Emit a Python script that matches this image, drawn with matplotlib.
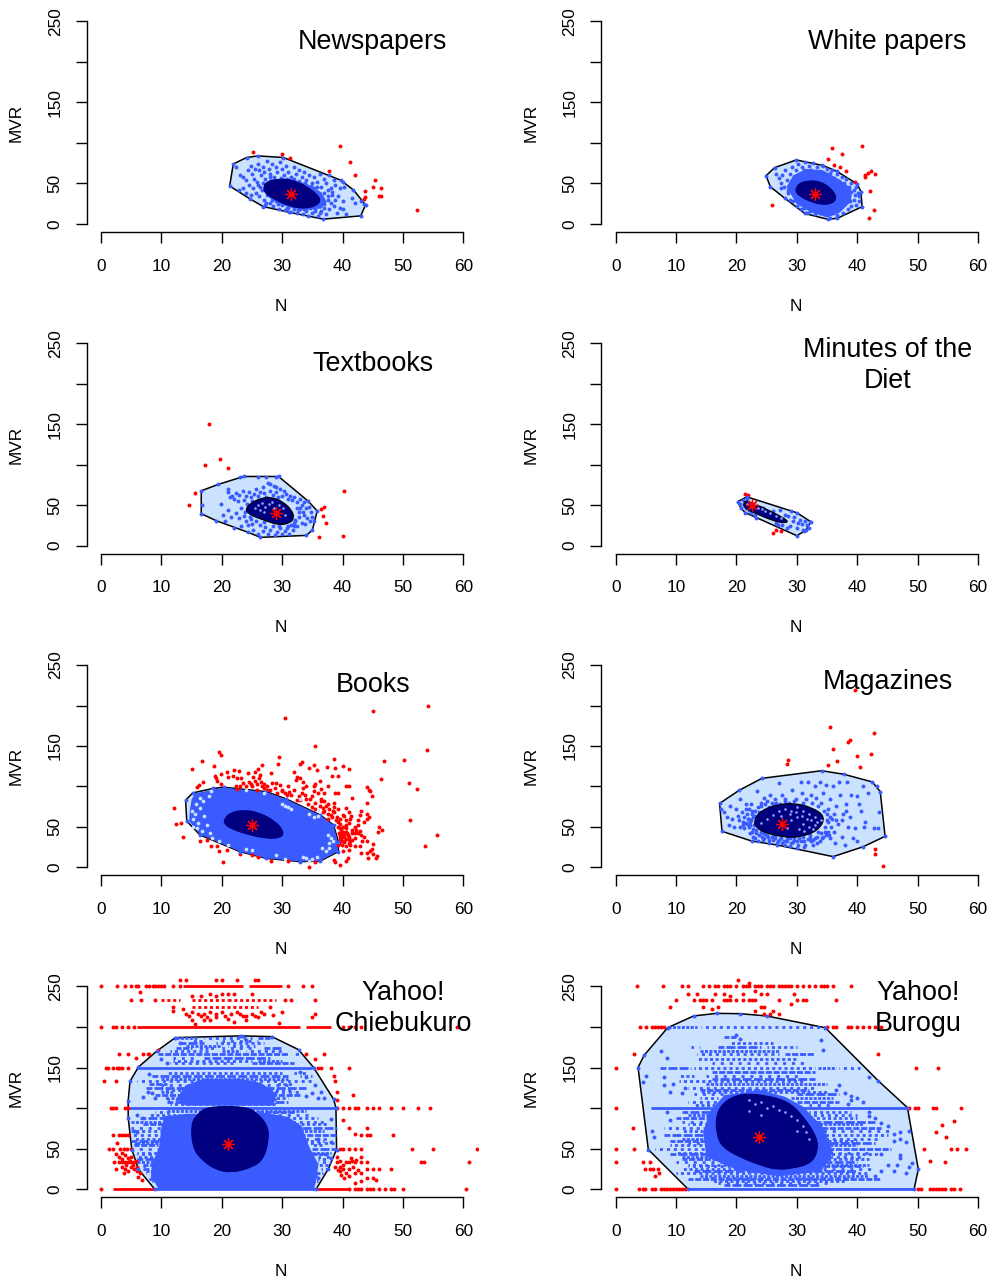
# Bagplots of N against MVR for eight Japanese text registers.
import numpy as np
import matplotlib
matplotlib.use("Agg")
from matplotlib import pyplot as plt
from matplotlib.path import Path
from matplotlib.patches import PathPatch

plt.rcParams["font.family"] = ["Liberation Sans", "DejaVu Sans"]

LIGHT = "#CAE1FF"
BLUE = "#3A5CFF"
NAVY = "#000080"
RED = "#FF0000"

xticks = [0, 10, 20, 30, 40, 50, 60]
yticks = [0, 50, 100, 150, 200, 250]
yticklabels = ["0", "50", "", "150", "", "250"]

# dash patterns cycled over the rows of points so they do not line up in columns
DOT_STYLES = [(0, (1.1, 0.5)), (0.9, (1.1, 1.4)), (0.4, (2.2, 0.6)), (1.5, (1.1, 0.9)), (0.2, (1.1, 2.1)), (1.1, (3.2, 0.8)), (0.6, (1.1, 1.1))]

# ---- Newspapers
news_hull = [(21.3,46.9),(21.9,74),(24.1,82),(26,84),(30.2,82),(39.7,54),(41.8,42),(43.8,23.5),(43,10),(36.8,6),(31.2,14.4),(26.9,21.4),(24.7,30.8)]
news_core = [(26.9,44),(27.3,52),(29.1,55),(30.7,55.5),(32.3,52.5),(34,46.5),(35.7,37),(36.4,29),(35.6,22.5),(34.1,19.5),(32.4,20),(30.7,23.5),(28.6,31),(27.2,37.8)]
news_center = (31.5, 37)
news_dense = [(27.5,34),(26.8,45),(28,55),(31,56),(34,50),(36.5,39),(37.4,27),(36.4,19),(33.5,17),(30,23)]
news_red = [(25.2,88.4),(29.9,86),(31.3,81),(37.8,65),(39.6,95.8),(41.2,76),(42,60.9),(45.4,54.3),(43.7,41),(45.1,45.2),(46.4,44.4),(43.7,33.7),(43.6,31),(46,34),(46.4,34),(52.4,17)]
news_blue = [(22.3,70),(23,60),(23.5,58),(24,54),(24.3,66),(24.8,72),(25,62),(25.3,56),(25.5,68),(26,74),(26.2,66),(26.5,60),(26.8,70),(27,64),(27.2,56),(27.5,78),(27.8,68),(28,62),(28.3,74),(28.6,58),(29,70),(29.2,64),(29.6,76),(30,68),(30.3,60),(30.7,72),(31,64),(31.4,58),(32,70),(32.3,62),(32.8,66),(33.2,58),(33.6,64),(34,54),(34.5,60),(35,50),(35.3,58),(35.8,52),(36.2,62),(36.5,46),(37,56),(37.3,50),(37.8,60),(38,44),(38.5,54),(38.8,48),(39.5,44),(40,52),(40.3,46),
(22.8,42),(23.5,44),(24,38),(24.5,48),(24.8,36),(25.2,44),(25.6,38),(26,48),(26.2,34),(26.6,42),(27,30),(27.2,24),(27.5,36),(28,26),(28.5,22),(29,28),(29.5,19),(30,24),(30.5,17),(31,20),(31.5,15),(32,19),(32.5,14),(33,18),(33.5,12),(34,16),(34.3,10),(35,14),(35.5,19),(36,10),(36.2,22),(36.5,16),(37,25),(37.3,12),(37.5,30),(37.8,18),(38,26),(38.3,36),(38.5,22),(38.8,30),(39,14),(39.2,34),(39.5,20),(40,28),(40.5,12),(40,18),(41.5,32),(42,26),(43,28),(43.5,25),(37,38),(37.5,42),(36.5,33),(36.8,28),
(25.8,52),(26.4,46),(26.9,50),(27.4,26),(27.9,58),(28.3,30),(28.8,54),(29.3,25),(29.8,57),(30.2,27),(30.8,56),(31.3,24),(32,55),(32.8,53),(33.2,22),(33.8,50),(34.2,24),(34.8,47),(35.2,44),(35.8,46),(36,38),(36.4,27),(36.9,20),(37.6,35),(38.2,40),(33.6,19),(34.6,20),(35.4,16),(36.2,13),(32.6,17),(31.8,22),(30.8,20)]

# ---- White papers
wp_hull = [(24.9,59.6),(26.3,69.5),(29.9,79),(34.4,72),(36.6,65),(40,49.3),(40.6,40),(40.8,21.4),(36.7,7),(35.1,5.8),(31.3,13),(28,31.7),(25.6,46)]
wp_core = [(29.9,44),(30.3,50),(31.9,53.5),(33.8,52.5),(35.5,45),(36.6,33.7),(36,25.5),(34.1,23.5),(32,28.5),(30.5,34),(29.8,40)]
wp_center = (33, 37)
wp_dense = [(28.3,46),(29.4,60),(31.6,68),(34.4,66),(37,55),(39,44),(39,28),(37.1,14),(35,8),(32.2,15),(29.9,25)]
wp_red = [(35.8,93.3),(40.7,96.2),(37.4,86),(35.2,79.8),(36.1,73.2),(37.1,70.7),(38.1,65),(39.7,51.8),(41.2,58),(41.3,60.4),(41.7,63.3),(42.3,65.4),(42.9,61.3),(42.1,41),(42.8,17.3),(41.9,7),(25.9,23.8)]
wp_blue = [(26.5,62),(27,57),(27.3,50),(27.6,60),(27.9,46),(28,66),(28.3,54),(28.5,38),(28.8,62),(29,48),(29.2,70),(29.5,58),(29.7,34),(29.9,66),(30.2,74),(30.5,62),(30.8,70),(31.1,66),(31.4,76),(31.7,62),(32,72),(32.4,67),(32.7,75),(33,62),(33.4,70),(33.8,65),(34.2,73),(34.6,60),(35,68),(35.4,63),(35.8,66),(36.2,57),(36.6,62),(37,53),(37.4,58),(37.8,50),(38.2,55),(38.6,46),(39,50),(39.4,42),(39.8,46),(40.1,38),(40.3,34),(40.2,28),(39.8,24),(39.4,30),(39,22),(38.6,34),(38.4,18),(38,30),(37.6,14),(37.2,22),(36.6,11),(36,14),(35.4,8),(34.6,12),(33.8,14),(33,12),(32.2,16),(31.6,14),(31.2,20),(30.6,18),(30,22),(29.4,28),(28.8,30),(27.4,44),(38.8,28),(39.6,36),(38.9,40),(37.9,44),(37.2,47),(36.6,52),(28.6,42)]

# ---- Textbooks
tb_hull = [(16.6,67.8),(19.4,75.7),(23.6,85.5),(29.4,85.5),(34.3,55),(35.8,43),(35,19.3),(34,12.7),(26.4,10.3),(24.4,16.4),(19.1,30.8),(16.6,39.5)]
tb_core = [(23.9,45),(24.8,53),(26.6,59),(28.3,60),(30.1,54.5),(31.6,44),(32,34),(31.2,27.5),(29.4,25.5),(27.4,30.5),(25.3,36),(24.4,40)]
tb_center = (29, 40)
tb_red = [(17.9,150),(19.7,107),(17.2,99.5),(21,96),(15.6,65),(14.5,50),(36.4,45),(36.9,48),(36.8,36.6),(37.3,28.4),(36.1,10.7),(40.1,12),(40.2,67.8)]
tb_blue = [(16.8,50),(19.9,51),(21,70),(21.1,66),(21.3,60),(21.7,62),(22,58),(22.4,65),(22.6,55),(22.9,63),(23.2,47),(23.5,68),(23.7,56),(24,62),(24.2,52),(24.5,66),(24.8,60),(25,55),(25.4,64),(25.7,70),(26,62),(26.4,66),(26.8,72),(27,65),(27.3,60),(27.6,78),(28,68),(28.4,63),(28.7,74),(29,66),(29.3,60),(29.7,70),(30,62),(30.3,68),(30.7,64),(31,58),(31.3,62),(31.7,56),(32,60),(32.5,54),(32.9,58),(33.2,50),(33.6,54),(34,46),(34.4,48),(34.8,42),(35,36),(35.2,30),(34.6,30),(34.1,34),(33.6,38),(33.2,28),(32.8,35),(32.4,24),(32.1,30),(31.8,20),(31.5,26),(31.2,15),(30.8,22),(30.4,18),(30,14),(29.6,22),(29.2,17),(28.8,13),(28.4,24),(28,20),(27.6,14),(27.2,23),(26.8,18),(26.4,26),(26,15),(25.6,30),(25.2,20),(24.8,33),(24.4,26),(24,30),(23.6,37),(23.2,24),(22.8,34),(22.4,40),(22,22),(21.6,36),(21,44),(20.6,30),(20.2,38),(23.9,42),(24.6,36),(25,27),(27,29),(29.5,24),(31.9,28),(32.7,42),(33.4,42),(33,46),(32.4,47),(33.8,27),(32.2,32),(31.9,24),(31,24),(27.4,85),(26,85),(29,84.5),(28.9,72),(27.9,76),(23,85)]
tb_specks = [(25.5,47),(26,50),(26.6,53),(27.2,48),(27.8,51),(28.3,54),(26.4,44),(27,42),(28.6,46),(29.5,50),(30.1,47),(29,42),(30.4,38)]

# ---- Minutes of the Diet
md_hull = [(20.2,54.3),(21.7,60.4),(30,40.7),(32.3,29.6),(31.5,19.3),(30,12.3),(21.4,41),(20.7,46.9)]
md_core = [(21.2,55),(22.2,55),(28.6,32),(28.2,27.5),(26.1,30.5),(22.8,41),(21.2,47)]
md_center = (22.5, 49.8)
md_red = [(21.4,64),(21.9,62.4),(26,16),(26.6,19.7),(27.4,17.7)]
md_blue = [(20.6,52),(21,56),(21.2,50),(21.5,46),(21.7,58),(22,44),(22.4,40),(23,38),(23.3,34),(23.7,44),(24.4,47),(25,40),(26,43),(26.6,28),(26.9,25),(27.2,44),(27.6,26),(28,38),(28.4,22),(28.6,37),(28.9,24),(29,43),(29.3,30),(29.6,36),(30,22),(30.2,28),(30.5,32),(30.9,27),(31,20),(31.3,30),(31.6,25),(32.1,29),(32,22),(31.2,18),(21.7,49),(22,47)]
md_specks = [(21.7,52),(22.5,48),(23.5,47),(24.2,45),(24.8,43),(25.5,40),(26.5,37),(27.3,34),(23,52)]

# ---- Books
bk_hull = [(14,83),(15.2,92),(18.6,97.6),(20.3,99),(27.4,93.5),(30.7,84.4),(36.3,64.7),(38.5,52.3),(39.3,31.7),(39.3,19.4),(36.3,7.8),(33,7),(27.4,11),(23,19.4),(16.4,40),(14.2,57)]
bk_core = [(20.4,58.5),(21.2,67),(23.6,71),(26,68),(28.8,57.5),(30.3,44),(29.8,36.5),(27.4,35.5),(24.1,41),(21.4,48),(20.4,54.4)]
bk_center = (25, 52.3)
bk_dense = [(15,84),(15.6,91.5),(20.3,98.6),(27.4,93),(30.7,84),(36.3,64.5),(38.5,52),(39.2,31.7),(39.2,19.5),(36.3,8),(33,7),(27.4,11),(23,19.5),(16.4,40.5),(14.6,57),(14.7,70)]
bk_red = [(30.5,185),(45,193),(54.2,200),(35.4,150),(53.9,145),(19.6,143),(19.8,139),(29.4,136),(29.3,128),(16.8,132),(18.7,125),(15,122),(38.5,134),(46.8,131),(50.2,133),(33.3,130),(33,128),(35.2,126),(26.7,126),(26,121),(22.1,120),(22.8,119),(20.8,118),(19.8,115),(25.5,118),(28.1,116),(24.3,116),(26.4,114),(25.2,112),(23.2,110),(22.5,111),(21.1,112),(18.9,113),(19,110),(16.9,106),(16.2,102),(15.9,99),(19.8,103),(19.2,107),(23.5,104),(24.5,105),(25.5,107),(26.2,110),(26.5,106),(27,103),(27,98),(24,100),(23,100),(28.3,104),(29,104),(29.6,102),(28.8,98),(28,96),(30.5,92),(31,100),(31.5,90),(32,96),(32.3,108),(32.5,112),(32,118),(33,110),(33.4,105),(34,100),(34.5,123),(35.8,120),(37.4,124),(38.8,123),(40.1,125),(41,122),(39.3,113),(38.2,113),(35.5,103),(36.3,107),(36.4,97),(35.2,100),(35.3,94),(36,92),(37,92),(37.5,100),(38.8,92),(39.3,92),(40.5,100),(41,101),(34,85),(33,83),(32.5,83),(34.6,84),(35.5,80),(36.5,82),(37,82),(38.6,80),(38.5,74),(39.3,72),(40.6,73),(35,74),(35.5,72),(36.7,73),(37,70),(37.5,66),(38,65),(37.5,60),(38.6,68),(39,62),(39.5,60),(40,65),(40.3,63),(40.5,58),(41,68),(41.4,64),(41.1,55),(42.9,65),(44,66),(44.3,62),(44,60),(43.5,56),(42.5,58),(42.6,52),(42,50),(41.5,46),(40,50),(39.5,54),(39.2,50),(39.7,46),(40.1,44),(40.6,48),(40,40),(39.5,40),(40.2,37),(39.8,36),(40.5,35),(41,38),(41.6,42),(42,42),(42.6,42),(43,40),(43.5,38),(43.2,33),(44,32),(41.5,34),(41,30),(40.6,26),(40,20),(41,22),(42.9,26),(43,18),(44,18),(44.5,20),(44.8,23),(45,17),(45.7,14),(45.5,12),(44.2,12),(40.9,11),(40.5,8),(39.6,3),(38.7,6),(38.5,9),(46,50),(46.5,46),(45.8,44),(51.2,59),(53.6,26),(55.6,40),(51,104),(52.3,97),(46.4,109),(44,99),(44.3,96),(44.5,94),(44.8,88),(44,79),(12.1,73),(12.5,54),(13.2,55),(13.6,38),(16.4,33),(18.2,26),(19.2,26),(19.6,20),(20.2,6),(17.6,34),(23,16),(28.2,8),(31,8),(35.4,6),(34.5,0),(25,15),(26,13),(20.8,22),(21.8,113),(30,94),(30.8,89),(27.5,100),(24.8,103),(25.8,95),(22.5,97),(33.5,98),(36.5,85),(37.5,78),(41.5,86),(43,70),(42.8,45),(45,29),(42,36),(39.3,27),(40.8,42),(41,35),(40.3,31),(40.6,44),(39.6,34),(41.3,28),(42,26),
(22.3,101),(25,101),(25.8,103),(26.6,100),(27.5,95),(29.2,92),(29.9,96),(31.2,93),(32.8,88),(33.8,90),(35,88),(36.2,76),(36.8,68),(37.8,72),(38.2,62),(38.9,58),(39.3,56),(39.4,43),(39.6,48),(39.9,38),(39.5,37),(39.9,42),(40.3,40),(40.9,40),(41.3,32),(39.8,32),(40.2,33),(39.4,30),(39.9,28),(40.5,52),(41.2,60),(42.3,46),(38.4,70),(37.2,76),(34.2,78),(33.2,92)]
bk_specks = [(15,70),(15.2,60),(15.8,78),(16,55),(16.4,86),(17,64),(17.5,52),(17.8,88),(18.2,94),(15.3,50),(15.5,66),(15.9,48),(16.7,45),(16.4,73),(16.9,82),(30,78),(30.5,76),(31,74),(31.5,72),(34.5,66),(35.2,62),(36,64),(37.5,40),(38,36),(37.8,30),(38.4,33),(36.6,24),(37.2,20),(37.8,24),(34,12),(35,10),(34.5,8),(30.5,10),(29,15),(25,22),(24,23),(21,28),(19.5,32),(18,42),(18.3,36),(33,85),(27,92),(24,96),(33.5,13),(35.8,13),(36,71)]

# ---- Magazines
mg_hull = [(17.2,79),(20.4,95),(24.2,110),(34.1,119.4),(37.8,115),(42.5,105.5),(43.8,93.5),(44.6,38.3),(41,25.5),(36,13.2),(26.7,27.6),(22.5,32.5),(17.6,44.5)]
mg_core = [(22.9,58.5),(24,70),(26.7,77.5),(29.4,79.5),(32.4,74.5),(34.8,62.6),(33.5,45),(30.5,37.2),(27.8,37.2),(25,42),(23.2,49)]
mg_center = (27.6, 53.5)
mg_red = [(39.7,219),(35.4,174),(42.8,166),(38.8,157),(38.5,154.5),(36,146.6),(40,138),(42.3,139.6),(28.6,132.6),(28.3,128),(36.7,131.8),(35.1,126.9),(40.5,124),(43,22.7),(43,16.5),(44.2,2)]
mg_blue = [(17.4,72),(18,68),(18.5,62),(18.8,52),(19,76),(19.3,60),(19.6,50),(20,72),(20.2,64),(20.4,58),(20.6,84),(20.9,68),(21,56),(21.3,48),(21.5,78),(21.7,66),(21.9,60),(22,50),(22.2,42),(22.4,78),(22.6,70),(22.8,62),(23,54),(23.2,46),(23.4,94),(23.6,74),(23.8,68),(24,58),(24.2,50),(24.4,42),(24.6,86),(24.8,78),(25,72),(25.2,38),(25.4,66),(25.6,90),(25.9,80),(26.1,34),(26.4,84),(26.7,30),(27,104),(27.2,78),(27.4,36),(27.6,90),(27.8,32),(28.1,84),(28.4,36),(28.7,80),(29,30),(29.2,96),(29.5,34),(29.8,84),(30.1,28),(30.4,36),(30.7,106),(30.9,92),(31.2,32),(31.5,84),(31.8,105),(32.1,40),(32.4,90),(32.7,34),(33,100),(33.2,86),(33.5,44),(33.8,106),(34,80),(34.1,36),(34.3,92),(34.6,50),(34.9,102),(35.1,72),(35.3,40),(35.5,84),(35.8,60),(36,100),(36.3,30),(36.5,76),(36.8,54),(37,106),(37.2,90),(37.4,38),(37.6,66),(37.9,28),(38.1,78),(38.3,105),(38.5,50),(38.8,62),(39,90),(39.3,36),(39.6,48),(39.9,88),(40,32),(40.3,78),(40.6,70),(41,100),(41.1,50),(41.3,56),(41.7,92),(42.8,48),(43.4,48),(43.6,68),(43.3,100),(35.2,56),(34.6,44),(33.8,32),(32.6,28),(31.2,25),(30,24),(28.8,26),(27.5,30),(26.4,36),(25.4,34),(24.6,36),(23.7,40),(22.9,52),(22.2,56),(21.8,54),(21.2,62),(22.7,47),(23.3,42),(24.2,38),(25.1,40),(26,41),(29.5,38),(31,37),(32.2,36),(33.4,38),(34.4,38),(35.2,44),(35.6,50),(36.2,44),(24,80),(25,82),(26,78),(23,70),(22.1,72),(24.6,70),(38.2,70),(37.4,58),(36.2,66),(35,66),(36.4,58),(34.5,70),
(20.5,50),(21,52),(21.5,55),(22,60),(22.3,52),(22.5,44),(22.8,38),(23.1,36),(23.5,33),(24,44),(24.4,34),(24.8,41),(25.4,30),(25.8,37),(26.3,40),(26.8,33),(27.2,35),(28,28),(28.3,33),(28.9,36),(29.4,31),(30,32),(30.6,33),(31.3,28),(31.8,35),(32.3,32),(33,36),(33.4,30),(34,42),(34.8,40),(35.5,36),(23.4,62),(22.5,66),(21.5,72),(23,64),(22.4,58),(24,76),(25.4,74),(26.5,80),(28,82),(29.5,82),(31,80),(32.5,80),(33.5,76),(35,58),(35.5,62)]
mg_specks = [(24,55),(25,60),(26,65),(27,70),(28,72),(29,70),(30,74),(31,70),(32,66),(33,62),(34,58),(33,52),(32,50),(31,54),(30,62),(29,58),(28.4,48),(27.4,64),(31.6,60),(30.4,47),(32.4,58),(29.8,68),(30.8,64),(32.6,47),(33.3,56),(31.2,45),(28.8,66)]

# ---- Yahoo! Chiebukuro
yc_hull = [(8.9,0),(6.2,24.6),(5.1,49),(4.5,88),(4.5,109),(4.8,133),(6.2,150.6),(9.2,170),(12.3,186.8),(23.3,189),(28.3,188),(32.7,172),(35.2,150),(38.5,111),(38.9,100.6),(39,49),(37.6,24.6),(35.6,0)]
yc_core = [(17.6,102),(24.1,102),(26.2,92),(27.7,76),(27.7,59),(26.9,37),(24.9,26.5),(21.6,20.5),(19,24),(16.7,36),(15.2,51),(14.9,80),(15.9,92)]
yc_center = (21, 56)
yc_dense_low = [(10.5,90),(14.2,93),(27.4,94),(31,89),(33.2,78),(34.5,52),(36,30.8),(35.6,10),(35.3,1),(9.5,1),(8.4,14.4),(8.4,30.8),(9.6,51),(10,76)]
yc_dense_up = [(12.5,112),(14,128),(17,136),(23,136),(26.5,131),(29,118),(28.6,103),(14,103)]
yc_rows = [(150,6.2,35),(100,4.5,38.9),(0,8.9,35.6)]
yc_dots = [(186,12.5,16),(186,17,25),(186,26,28),(183,15,17),(183,20,26),(180,13,17),(180,19,27),(176,14,20),(176,21,25.5),(173.6,12.5,15),(173.6,16,19),(173.6,20,25),(173.6,27,30),(170,11.5,18),(170,20,23),(170,24,30.5),(166.7,9.5,31),(166.7,32,33),(162,12,16),(162,17,28),(158,12,25),(158,26,30),(155,11.5,22),(155,25,32),(143,11,30),(143,32,34),(140,8.5,31),(140,33,35),(136.4,10,31),(133.3,6,35.5),(130,8,11),(130,29,32),(128,10,31),(125,7.5,34),(122,10,32),(120,10,12),(120,28,33),(116.7,9,33),(113,10.5,31),(111,11,30),(108,11,31),(105,11.5,29),(97,11,34),(95,9,12),(95,26,32),(90.9,8,13),(90.9,28,35),(87.5,6.5,11),(87.5,30,36),(83.3,5,10),(83.3,31,37),(80,7,11),(80,32,37.5),(75,5,11),(75,32,39),(71.4,5,10),(71.4,33,37),(66.7,4.7,10),(66.7,33,38.9),(62.5,5.5,10),(62.5,34,38),(60,5,10),(60,34,37),(57,6,10),(57,34,38.5),(55,5.5,9.5),(55,35,37),(50,5,10),(50,35,39),(45,6,9.5),(45,35,38),(42.9,6,9),(42.9,35,37.5),(40,6,9),(40,36,38),(37.5,6,9),(37.5,36,37.5),(33.3,6,9),(33.3,36,38),(30,7,9),(30,36,37.7),(28.6,7,8.5),(25,7,9),(25,36.5,37.6),(22.2,7.5,9),(20,7.5,9),(20,35.5,36.8),(16.7,8,9),(16.7,35.5,36.5),(12.5,8,9.5),(10,8.5,9.5),(10,35,36)]
yc_blue = [(7,114),(9,113),(8.5,118),(7.8,120),(34,115),(35,118),(36,113),(36.5,120),(35.5,128),(37,112),(6,92),(7,88),(5.5,72),(6,70),(5.8,56),(36,62),(38,58),(38,86),(37.2,44),(38,38),(36,14),(13,180),(23,189),(24,184),(10,160),(11,155),(33,145),(34,138),(8,142)]
yc_red_rows = [(250,13.5,23.5),(250,24.5,30),(200,6,33),(200,34,38),(0,2,8.9),(0,35.6,41)]
yc_red_dots = [(233.3,10,13),(233.3,15,21),(233.3,21,29),(225,15,26)]
yc_red = [(0,250),(2.7,250),(4,250),(5,250),(5.8,250),(6.2,250),(7.5,250),(8,250),(8.6,250),(9,250),(9.5,250),(10,250),(10.5,250),(12,250),(13,250),(31,250),(33.5,250),(35,250),(13,258),(14,258),(19,258),(20,258),(22.5,258),(25.5,258),(26,258),(6.5,243),(5,233),(6.7,233),(9,233),(30.5,233),(31.5,233),(35.5,233),(15,238),(16.5,238),(18,240),(19,238),(20,240),(21,240),(22,240),(25,240),(12,225),(28,225),(14,216),(15,218),(16,216),(17,216),(18,218),(19,216),(20,218),(21.5,216),(22.5,218),(23,216),(24,214),(25,216),(27,216),(30,218),(12,220),(35,212),(35.5,216),(15,208),(15.5,204),(17,208),(18,208),(19,212),(22,206),(24,208),(26,212),(29.5,205),(13.5,222),(14.5,213),(16.5,213),(17.5,212),(20.5,214),(21,210),(23.5,213),(25.5,214),(26.5,218),(28.5,215),(0,200),(2,200),(2.5,200),(3.5,200),(4.5,200),(5.5,200),(40,200),(41,200),(42,200),(43,200),(59,200),(3,166.7),(4.5,166.7),(7,166.7),(7.8,166.7),(8,166.7),(9.5,172),(5.8,162),(34,166.7),(37,166.7),(35.5,160),(0.8,150),(1.2,150),(2,150),(2.7,150),(3,150),(3.5,150),(4.5,150),(36,150),(36.5,150),(38,150),(41,150),(0.5,133),(2.5,133),(38.5,140),(38.8,133),(39,120),(41.8,116),(39,110),(1.7,100),(2,100),(2.5,100),(4,100),(4.5,100),(39,100),(40,100),(41,100),(42,100),(42.6,100),(44,100),(45,100),(46,100),(48,100),(50,100),(52.5,100),(54.5,100),(40,85),(41,76),(44,76),(42,68),(43,66.7),(44,66.7),(44.5,66.7),(48.3,66.7),(2,66.7),(3,66.7),(3.5,66.7),(4,66.7),(4.5,66.7),(2.6,57),(1.4,50),(2,50),(3.2,50),(3.8,50),(4.3,50),(4.9,50),(39.5,50),(40,50),(41,50),(42,50),(43,50),(51.5,50),(55,50),(62.3,50),(2.5,44),(3,40),(3.5,45),(4,42),(4.5,38),(5,40),(2.2,33),(3,33),(3.5,33),(4,33),(4.5,33),(5,33),(5.5,33),(2.5,25),(3.5,27),(4,25),(4.5,22),(5,28),(5.5,25),(6,22),(6.5,20),(6.2,15),(6.8,12),(3.8,20),(39,40),(39.5,35),(39,33),(39.5,28),(40,30),(40.5,33),(41,33),(41.5,35),(42,33),(43,33),(44,33),(43,40),(39.5,22),(40,25),(40.5,20),(41,25),(41,16),(42,20),(43,20),(44,25),(45,25),(46,25),(48,25),(44,14),(45,14),(45.5,12),(43,10),(42,8),(53,33),(53.5,33),(61,33),(60.5,0),(0,0),(41,0),(42,0),(42.5,0),(43,0),(44,0),(44.5,0),(45,0),(46,0),(47,0),(48,0),(48.5,0),(50,0),(4.8,35),(5.3,30),(6,28),(5.8,35),(3.4,37),(4.2,30),(38.8,28),(39.2,24),(39.8,18),(40.2,14),(41.8,28),(42.5,24),(41.4,38),(42.3,36)]

# ---- Yahoo! Burogu
yb_hull = [(12,0),(5.4,49),(3.7,150),(4.7,165),(8.6,199),(12.9,213.5),(16.7,216.7),(20.6,216.3),(25,213.5),(34.7,199),(43.5,133.4),(48.3,100.6),(50.1,24.6),(49.4,0)]
yb_core = [(16.6,92.4),(18.2,110),(21.1,118),(25,115.5),(28.5,108),(30.8,92.4),(33.4,63.6),(33.4,45),(32.2,31.5),(29.4,26),(26.7,24),(24,29.5),(20.4,40),(17.6,52.4),(16.7,67.7)]
yb_center = (23.8, 64.4)
yb_dense = [(15,40),(14.5,70),(15.5,95),(18,116),(24,122),(28,114),(31,102),(34.5,75),(36,45),(34,22),(27,16),(20,24)]
yb_rows = [(100,5.9,48.3),(0,12,49.4)]
yb_dots = [(200,8.6,13.5),(200,14.2,34.7),(188,18,20),(180,19,26),(175,12.5,14),(175,17,24),(175,25,30),(170,14,27),(166.7,13.5,27),(166.7,28,33),(160,13.5,30),(155,16,32),(150,7.3,12.5),(150,13,33),(150,33.5,36.5),(150,37,40.5),(145,16,33),(140,10.5,13),(140,15,31),(136,16,33),(133.3,10.5,31),(130,15,35),(125,12,33),(122,14,32),(120,14,35),(117,13,18),(117,30,37),(113,14,17),(113,29,36),(108,12,17),(108,30,37),(104,13,17),(104,32,36),(95,11,16),(95,32,39),(90.9,12,16),(90.9,32,40),(87.5,10,16),(87.5,33,40),(83.3,11,15.5),(83.3,33,43),(80,12,16),(80,33,41),(75,8,16),(75,33,44),(71.4,11,16),(71.4,33,46),(66.7,8,16),(66.7,34,45),(62.5,11,16),(62.5,34,44),(60,9,16),(60,34,40),(57,12,16),(57,34,43),(55,9,16),(55,34,40),(50,6.5,17),(50,34,45.5),(45,10,17),(45,34,42),(42.9,9,18),(42.9,34,44),(40,11,19),(40,33.5,41),(37.5,11,19),(37.5,33,42),(33.3,10,20),(33.3,33,40),(30,12,22),(30,32,42),(28.6,12,24),(28.6,32,41),(25,11,26),(25,30,43),(22.2,13,40),(20,10,42),(16.7,14,42),(14.3,14,40),(12.5,12,44),(10,16,38),(8,17,36),(5,18,34)]
yb_blue = [(20,190),(20.5,185),(34,184),(34.3,172),(7.5,170),(8.5,162),(42,138),(4.5,132),(5,139),(8,128),(8,138),(9,120),(9.5,130),(11,118),(11.5,125),(36.5,122),(37,128),(38.5,105),(39,110),(8.5,95),(9,85),(6,72),(6.3,65),(47,42),(47,62),(48,58),(48.5,72),(49,32),(48,20),(48.5,28),(46,68),(47,70),(46,22),(46.5,30),(45,30),(44,44),(42,90),(38,118),(39,115),(40,112),(41,108),(42,95),(43,88),(44,82),(45,78),(46,60),(47,38),(43,16),(44,22)]
yb_specks = [(22,110),(23,105),(24,108),(25,100),(26,102),(27,98),(28,95),(29,90),(30,85),(31,78),(31.5,70),(32,62),(30,72),(22,96),(24,92)]
yb_red = [(3.5,250),(7.8,250),(11,250),(12,250),(14.5,250),(15.5,250),(16.5,250),(17,250),(18,250),(18.5,250),(19,250),(20,250),(21,250),(21.5,250),(22,250),(23,250),(23.5,250),(24,250),(25,250),(25.5,250),(26,250),(27,250),(27.5,250),(28,250),(28.5,250),(29,250),(30,250),(31,250),(32,250),(33,250),(34,250),(34.5,250),(35,250),(36,250),(39,250),(20.3,258),(22,254),(10,233),(13,233),(14,233),(14.5,233),(15,233),(16,233),(18,233),(18.5,233),(19,233),(20,233),(21,233),(22,233),(22.5,233),(23,233),(27,233),(30,233),(31,233),(31.5,233),(36.5,233),(12,241),(13.5,241),(16.5,240),(18,240),(19,238),(21,240),(23,244),(24,240),(25,240),(29.5,241),(29,228),(9,225),(14.5,225),(16,222),(17,225),(24,225),(24.5,225),(23,220),(24.5,216),(25.5,216),(26,220),(27,216),(4,200),(5,200),(6,200),(6.5,200),(7,200),(7.5,200),(8,200),(35,200),(36,200),(36.5,200),(38.5,200),(39,200),(40,200),(41,200),(42,200),(43,200),(44,200),(3,166.7),(43.5,166.7),(0,150),(49.8,150),(53.3,150),(0,100),(48.5,100),(49.5,100),(50,100),(52.5,100),(53,100),(57.2,100),(56,84),(54,79),(53,71),(54.7,65),(2.8,75),(0,50),(3.1,50),(51,50),(55.5,50),(56.5,50),(58,50),(0,33.3),(4.5,33.3),(5.7,33.3),(52,35),(54.5,33.3),(4.8,25),(5.7,25),(6.2,25),(7,25),(7.2,20),(6.5,16),(0,0),(3.8,0),(4.5,0),(4.8,0),(6,0),(6.5,0),(7.5,0),(8,0),(8.5,0),(9,0),(9.5,0),(10,0),(10.5,0),(11,0),(11.5,0),(50,0),(50.5,0),(52,0),(52.5,0),(53,0),(53.5,0),(54,0),(54.5,0),(55.5,0),(56,0),(57,0)]


def xy(points):
    return np.array(points)[:, 0], np.array(points)[:, 1]


def smooth_patch(points, **kw):
    # closed curve with the read vertices as control points
    pts = np.array(points)
    mids = (pts + np.roll(pts, -1, axis=0)) / 2
    verts = [mids[-1]]
    codes = [Path.MOVETO]
    for p, m in zip(pts, mids):
        verts += [p, m]
        codes += [Path.CURVE3, Path.CURVE3]
    return PathPatch(Path(verts, codes), **kw)


def draw_panel(ax, title, title_y, title_x, hull, core, center, blue, red, dense=(), rows=(), dots=(),
               red_rows=(), red_dots=(), specks=(), speck_color="#8FA6FF", speck_s=3.5, core_edge=NAVY):
    ax.fill(*xy(hull), facecolor=LIGHT, edgecolor="black", lw=1.1, zorder=1)
    for poly in dense:
        ax.fill(*xy(poly), facecolor=BLUE, edgecolor="none", zorder=1.5)
    for y, x0, x1 in rows:
        ax.hlines(y, x0, x1, color=BLUE, lw=2.0, zorder=2)
    for i, (y, x0, x1) in enumerate(dots):
        ax.hlines(y, x0, x1, color=BLUE, lw=2.0, linestyles=[DOT_STYLES[i % len(DOT_STYLES)]], zorder=2)
    for y, x0, x1 in red_rows:
        ax.hlines(y, x0, x1, color=RED, lw=2.0, zorder=2)
    for y, x0, x1 in red_dots:
        ax.hlines(y, x0, x1, color=RED, lw=2.0, linestyles=[(0, (1.1, 1.0))], zorder=2)
    ax.scatter(*xy(red), s=8, color=RED, linewidths=0, zorder=2)
    ax.scatter(*xy(blue), s=8, color=BLUE, linewidths=0, zorder=2.2)
    ax.scatter(*xy(hull), s=8, color=BLUE, linewidths=0, zorder=2.2)
    if len(specks) and speck_color == LIGHT:
        ax.scatter(*xy(specks), s=speck_s, color=speck_color, linewidths=0, zorder=2.3)
    ax.add_patch(smooth_patch(core, facecolor=NAVY, edgecolor=core_edge, lw=0.8, zorder=3))
    if len(specks) and speck_color != LIGHT:
        ax.scatter(*xy(specks), s=speck_s, color=speck_color, linewidths=0, zorder=3.2)
    ax.plot([center[0]], [center[1]], marker=(8, 2, 0), ms=9, mew=0.9, color=RED, ls="none", zorder=4)

    ax.set_xlim(-2.4, 62.4)
    ax.set_ylim(-10, 260)
    ax.spines["top"].set_visible(False)
    ax.spines["right"].set_visible(False)
    ax.spines["left"].set_bounds(0, 250)
    ax.spines["bottom"].set_bounds(0, 60)
    ax.spines["left"].set_linewidth(1.0)
    ax.spines["bottom"].set_linewidth(1.0)
    ax.set_xticks(xticks)
    ax.set_yticks(yticks)
    ax.set_yticklabels(yticklabels, rotation=90, va="center")
    ax.tick_params(axis="x", length=7.6, width=1.0, pad=11.5, labelsize=12.4)
    ax.tick_params(axis="y", length=7.6, width=1.0, pad=9.5, labelsize=12.4)
    ax.set_xlabel("N", fontsize=12.4, va="center")
    ax.set_ylabel("MVR", fontsize=12.4, va="center")
    ax.xaxis.set_label_coords(0.496, -0.338)
    ax.yaxis.set_label_coords(-0.18, 0.5)
    ax.patch.set_alpha(0)
    ax.text(title_x, title_y, title, fontsize=19.4, ha="center", va="center",
            linespacing=1.24, zorder=5)


W, H = 992, 1281
fig = plt.figure(figsize=(W / 100, H / 100), dpi=100)
lefts = [86.5, 601.2]
tops = [13.2, 335.2, 657.0, 978.2]
heights = [218.9, 218.6, 218.4, 219.2]
width = 391.4


def panel(col, row):
    return fig.add_axes([lefts[col] / W, 1 - (tops[row] + heights[row]) / H, width / W, heights[row] / H])


draw_panel(panel(0, 0), "Newspapers", 225, 45, news_hull, news_core, news_center, news_blue, news_red, dense=[news_dense])
draw_panel(panel(1, 0), "White papers", 225, 45, wp_hull, wp_core, wp_center, wp_blue, wp_red, dense=[wp_dense])
draw_panel(panel(0, 1), "Textbooks", 224, 45, tb_hull, tb_core, tb_center, tb_blue, tb_red, specks=tb_specks, core_edge="black")
draw_panel(panel(1, 1), "Minutes of the\nDiet", 223, 45, md_hull, md_core, md_center, md_blue, md_red, specks=md_specks, core_edge="black")
draw_panel(panel(0, 2), "Books", 225, 45, bk_hull, bk_core, bk_center, [(15,75)], bk_red, dense=[bk_dense],
           specks=bk_specks, speck_color=LIGHT, speck_s=7)
draw_panel(panel(1, 2), "Magazines", 229, 45, mg_hull, mg_core, mg_center, mg_blue, mg_red, specks=mg_specks, core_edge="black")
draw_panel(panel(0, 3), "Yahoo!\nChiebukuro", 223, 50, yc_hull, yc_core, yc_center, yc_blue, yc_red,
           dense=[yc_dense_low, yc_dense_up], rows=yc_rows, dots=yc_dots, red_rows=yc_red_rows, red_dots=yc_red_dots)
draw_panel(panel(1, 3), "Yahoo!\nBurogu", 223, 50, yb_hull, yb_core, yb_center, yb_blue, yb_red,
           dense=[yb_dense], rows=yb_rows, dots=yb_dots, specks=yb_specks)

fig.savefig("out.png", dpi=100)
